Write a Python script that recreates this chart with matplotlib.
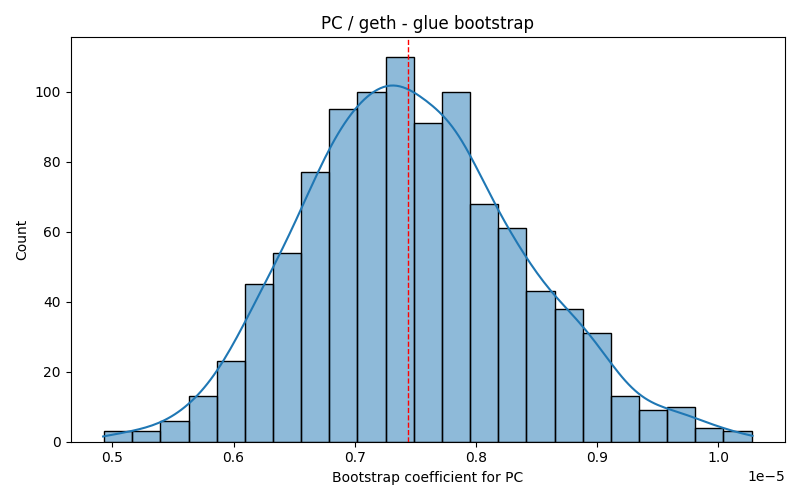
import numpy as np
import pandas as pd
import matplotlib
matplotlib.use("Agg")
import matplotlib.pyplot as plt
import seaborn as sns

# bin counts (1000 bootstrap draws)
counts = [3, 3, 6, 13, 23, 45, 54, 77, 95, 100, 110, 91, 100,
          68, 61, 43, 38, 31, 13, 9, 10, 4, 3]
left_edge = 0.4931e-5
right_edge = 1.0276e-5
mean_coef = 0.7442e-5

edges = np.linspace(left_edge, right_edge, len(counts) + 1)
centers = (edges[:-1] + edges[1:]) / 2
# one value per bootstrap draw, placed at its bin centre
draws = np.repeat(centers, counts)
df = pd.DataFrame({"coef": draws})

fig, ax = plt.subplots(figsize=(8, 5), dpi=100)
sns.histplot(data=df, x="coef", bins=list(edges), kde=True,
             kde_kws={"cut": 0.55}, ax=ax)
ax.axvline(mean_coef, color="red", linestyle="--", linewidth=1)
ax.set_title("PC / geth - glue bootstrap")
ax.set_xlabel("Bootstrap coefficient for PC")
ax.set_ylabel("Count")
fig.tight_layout()
fig.savefig("out.png")
